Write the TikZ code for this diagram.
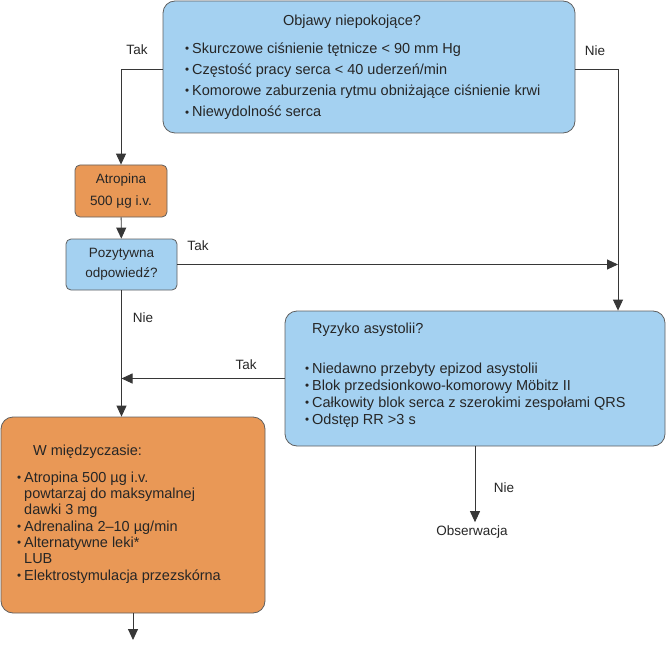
\documentclass[tikz,border=0pt]{standalone}
\usepackage{fontspec}
\setmainfont{Liberation Sans}
\usepackage{graphicx}
\usetikzlibrary{arrows.meta}

\definecolor{boxblue}{RGB}{164,209,241}
\definecolor{boxorange}{RGB}{233,152,86}
\definecolor{edgegray}{RGB}{95,95,95}
\definecolor{arrowgray}{RGB}{55,55,55}

\newcommand{\bul}{\makebox[7pt][l]{\raisebox{0.12ex}{\scalebox{0.8}{\textbullet}}}}
\newcommand{\ind}{\hspace*{7pt}}

\begin{document}
\begin{tikzpicture}[x=1pt, y=-1pt, >={Triangle[width=10pt,length=11pt]},
    every node/.style={font=\fontsize{13.5}{21}\selectfont, text=black!85},
    bluebox/.style={draw=edgegray, line width=0.8pt, fill=boxblue, rounded corners=12pt, inner sep=0pt},
    orangebox/.style={draw=edgegray, line width=0.8pt, fill=boxorange, rounded corners=12pt, inner sep=0pt},
    link/.style={draw=arrowgray, line width=0.9pt, ->}]

    \useasboundingbox (0,0) rectangle (668,644);

    % question boxes and drug boxes
    \node[bluebox, minimum width=412pt, minimum height=132pt] (objawy) at (369,67) {};
    \node[orangebox, rounded corners=5pt, minimum width=92pt, minimum height=52pt, align=center, font=\fontsize{13.5}{22}\selectfont] (atropina) at (121,191) {Atropina\\500 µg i.v.};
    \node[bluebox, rounded corners=5pt, minimum width=111pt, minimum height=51pt, align=center, font=\fontsize{13.5}{20}\selectfont] (pozytywna) at (121.5,264.5) {Pozytywna\\odpowiedź?};
    \node[bluebox, minimum width=380pt, minimum height=135pt] (ryzyko) at (475,378.5) {};
    \node[orangebox, minimum width=264pt, minimum height=196pt] (srodki) at (133,515) {};
    \node (obserwacja) at (472,532) {Obserwacja};

    % texts inside the big boxes (base = last line)
    \node[anchor=base, font=\fontsize{14.5}{21}\selectfont] (objawytyt) at (352,26) {Objawy niepokojące?};
    \node[anchor=base west, align=left, inner sep=0pt, font=\fontsize{14.5}{21.3}\selectfont] (objawylista) at (185,117)
        {\bul Skurczowe ciśnienie tętnicze < 90 mm Hg\\
         \bul Częstość pracy serca < 40 uderzeń/min\\
         \bul Komorowe zaburzenia rytmu obniżające ciśnienie krwi\\
         \bul Niewydolność serca};
    \node[anchor=base west, inner sep=0pt, font=\fontsize{14.5}{17}\selectfont] (ryzykotyt) at (312,333) {Ryzyko asystolii?};
    \node[anchor=base west, align=left, inner sep=0pt, font=\fontsize{14.5}{17}\selectfont] (ryzykolista) at (305,424)
        {\bul Niedawno przebyty epizod asystolii\\
         \bul Blok przedsionkowo-komorowy Möbitz II\\
         \bul Całkowity blok serca z szerokimi zespołami QRS\\
         \bul Odstęp RR >3 s};
    \node[anchor=base west, inner sep=0pt, font=\fontsize{14.5}{17}\selectfont] (srodkityt) at (33,455) {W międzyczasie:};
    \node[anchor=base west, align=left, inner sep=0pt, font=\fontsize{14.5}{16.3}\selectfont] (srodkilista) at (17,580)
        {\bul Atropina 500 µg i.v.\\
         \ind powtarzaj do maksymalnej\\
         \ind dawki 3 mg\\
         \bul Adrenalina 2--10 µg/min\\
         \bul Alternatywne leki*\\
         \ind LUB\\
         \bul Elektrostymulacja przezskórna};

    % answer labels
    \node (tak1) at (137,50) {Tak};
    \node (nie1) at (595,51) {Nie};
    \node (tak2) at (198,246) {Tak};
    \node (nie2) at (143,318) {Nie};
    \node (tak3) at (246,365) {Tak};
    \node (nie3) at (504,488) {Nie};

    % connectors
    \coordinate (prawo) at (618,0);
    \coordinate (dalej) at (133,640);
    \draw[link] ([yshift=-2pt]objawy.west) -| (atropina.north);
    \draw[link] ([yshift=-2pt]objawy.east) -| (ryzyko.north -| prawo);
    \draw[link] (atropina) -- (pozytywna);
    \draw[link] (pozytywna.east) -- (pozytywna.east -| prawo);
    \draw[link] (pozytywna.south) -- (pozytywna.south |- srodki.north);
    \draw[link] (ryzyko.west) -- (ryzyko.west -| pozytywna.south);
    \draw[link] (ryzyko.south) -- (ryzyko.south |- obserwacja.north);
    \draw[link] (srodki.south) -- (dalej);
\end{tikzpicture}
\end{document}
